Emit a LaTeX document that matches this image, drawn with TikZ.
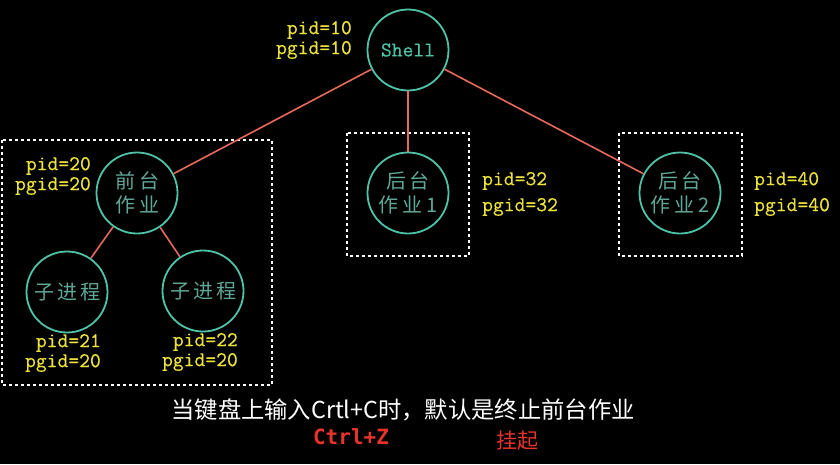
\documentclass[tikz,border=0pt]{standalone}
\usepackage{fontspec}
\newfontfamily\cjk{Noto Sans CJK SC}
\newfontfamily\monob{DejaVu Sans Mono}
\newfontfamily\pidtt[AutoFakeBold=0.5]{Latin Modern Mono}
\usetikzlibrary{positioning}
\definecolor{ringc}{HTML}{4FC3A8}
\definecolor{inner}{HTML}{5FA898}
\definecolor{linkc}{HTML}{E8695C}
\definecolor{pidc}{HTML}{ECE23A}
\definecolor{hotc}{HTML}{E8332A}
\tikzstyle{Proc} = [circle, draw=ringc, line width=1.8pt, minimum size=81pt,
  inner sep=0pt, align=center, text=inner, font=\cjk\fontsize{20}{24}\selectfont]
\tikzstyle{Link} = [draw=linkc, line width=1.6pt]
\tikzstyle{Grp} = [draw=white, line width=1.4pt, dash pattern=on 3pt off 3pt]
\tikzstyle{Pid} = [text=pidc, inner sep=0pt, font=\pidtt\bfseries\fontsize{21}{20}\selectfont]

\begin{document}
\begin{tikzpicture}[x=1pt, y=-1pt]
    \fill[black] (0,0) rectangle (840,464);
    \useasboundingbox (0,0) rectangle (840,464);

    \node [Proc, text=ringc, font=\pidtt\bfseries\fontsize{21}{23}\selectfont] (shell) at (408,50) {Shell};
    \node [Proc] (fg) at (137,193) {前\hspace{4pt}台\\作\hspace{4pt}业};
    \node [Proc] (sub1) at (67,292) {子\hspace{3pt}进\hspace{3pt}程};
    \node [Proc] (sub2) at (203,291) {子\hspace{3pt}进\hspace{3pt}程};
    \node [Proc] (bg1) at (408,193) {后\hspace{4pt}台\\作\hspace{4pt}业\hspace{4pt}1};
    \node [Proc] (bg2) at (680,193) {后\hspace{4pt}台\\作\hspace{4pt}业\hspace{4pt}2};

    \draw[Grp] (2,140) rectangle (272,385);
    \draw[Grp] (347,133) rectangle (469,256);
    \draw[Grp] (619,133) rectangle (742,256);

    \node [Pid, align=right, anchor=east] (shellpid) at (352,40) {pid=10\\pgid=10};
    \node [Pid, align=right, anchor=east] (fgpid) at (91,176) {pid=20\\pgid=20};
    \node [Pid, align=right, anchor=east] (sub1pid) at (101,353) {pid=21\\pgid=20};
    \node [Pid, align=right, anchor=east] (sub2pid) at (238,352) {pid=22\\pgid=20};
    \node [Pid, align=left, anchor=west, font=\pidtt\bfseries\fontsize{21}{26}\selectfont]
        (bg1pid) at (482,194) {pid=32\\pgid=32};
    \node [Pid, align=left, anchor=west, font=\pidtt\bfseries\fontsize{21}{26}\selectfont]
        (bg2pid) at (754,194) {pid=40\\pgid=40};

    \draw[Link] (shell) -- (fg);
    \draw[Link] (shell) -- (bg1);
    \draw[Link] (shell) -- (bg2);
    \draw[Link] (fg) -- (sub1);
    \draw[Link] (fg) -- (sub2);

    \node [text=white, font=\cjk\fontsize{23.3}{27}\selectfont] (note) at (403,410)
        {当键盘上输入Crtl+C时，默认是终止前台作业};
    \node [text=hotc, font=\monob\bfseries\fontsize{21}{24}\selectfont] (ctrlz) at (351,437) {Ctrl+Z};
    \node [text=hotc, font=\cjk\fontsize{21}{24}\selectfont] (hang) at (517,441) {挂起};
\end{tikzpicture}
\end{document}
